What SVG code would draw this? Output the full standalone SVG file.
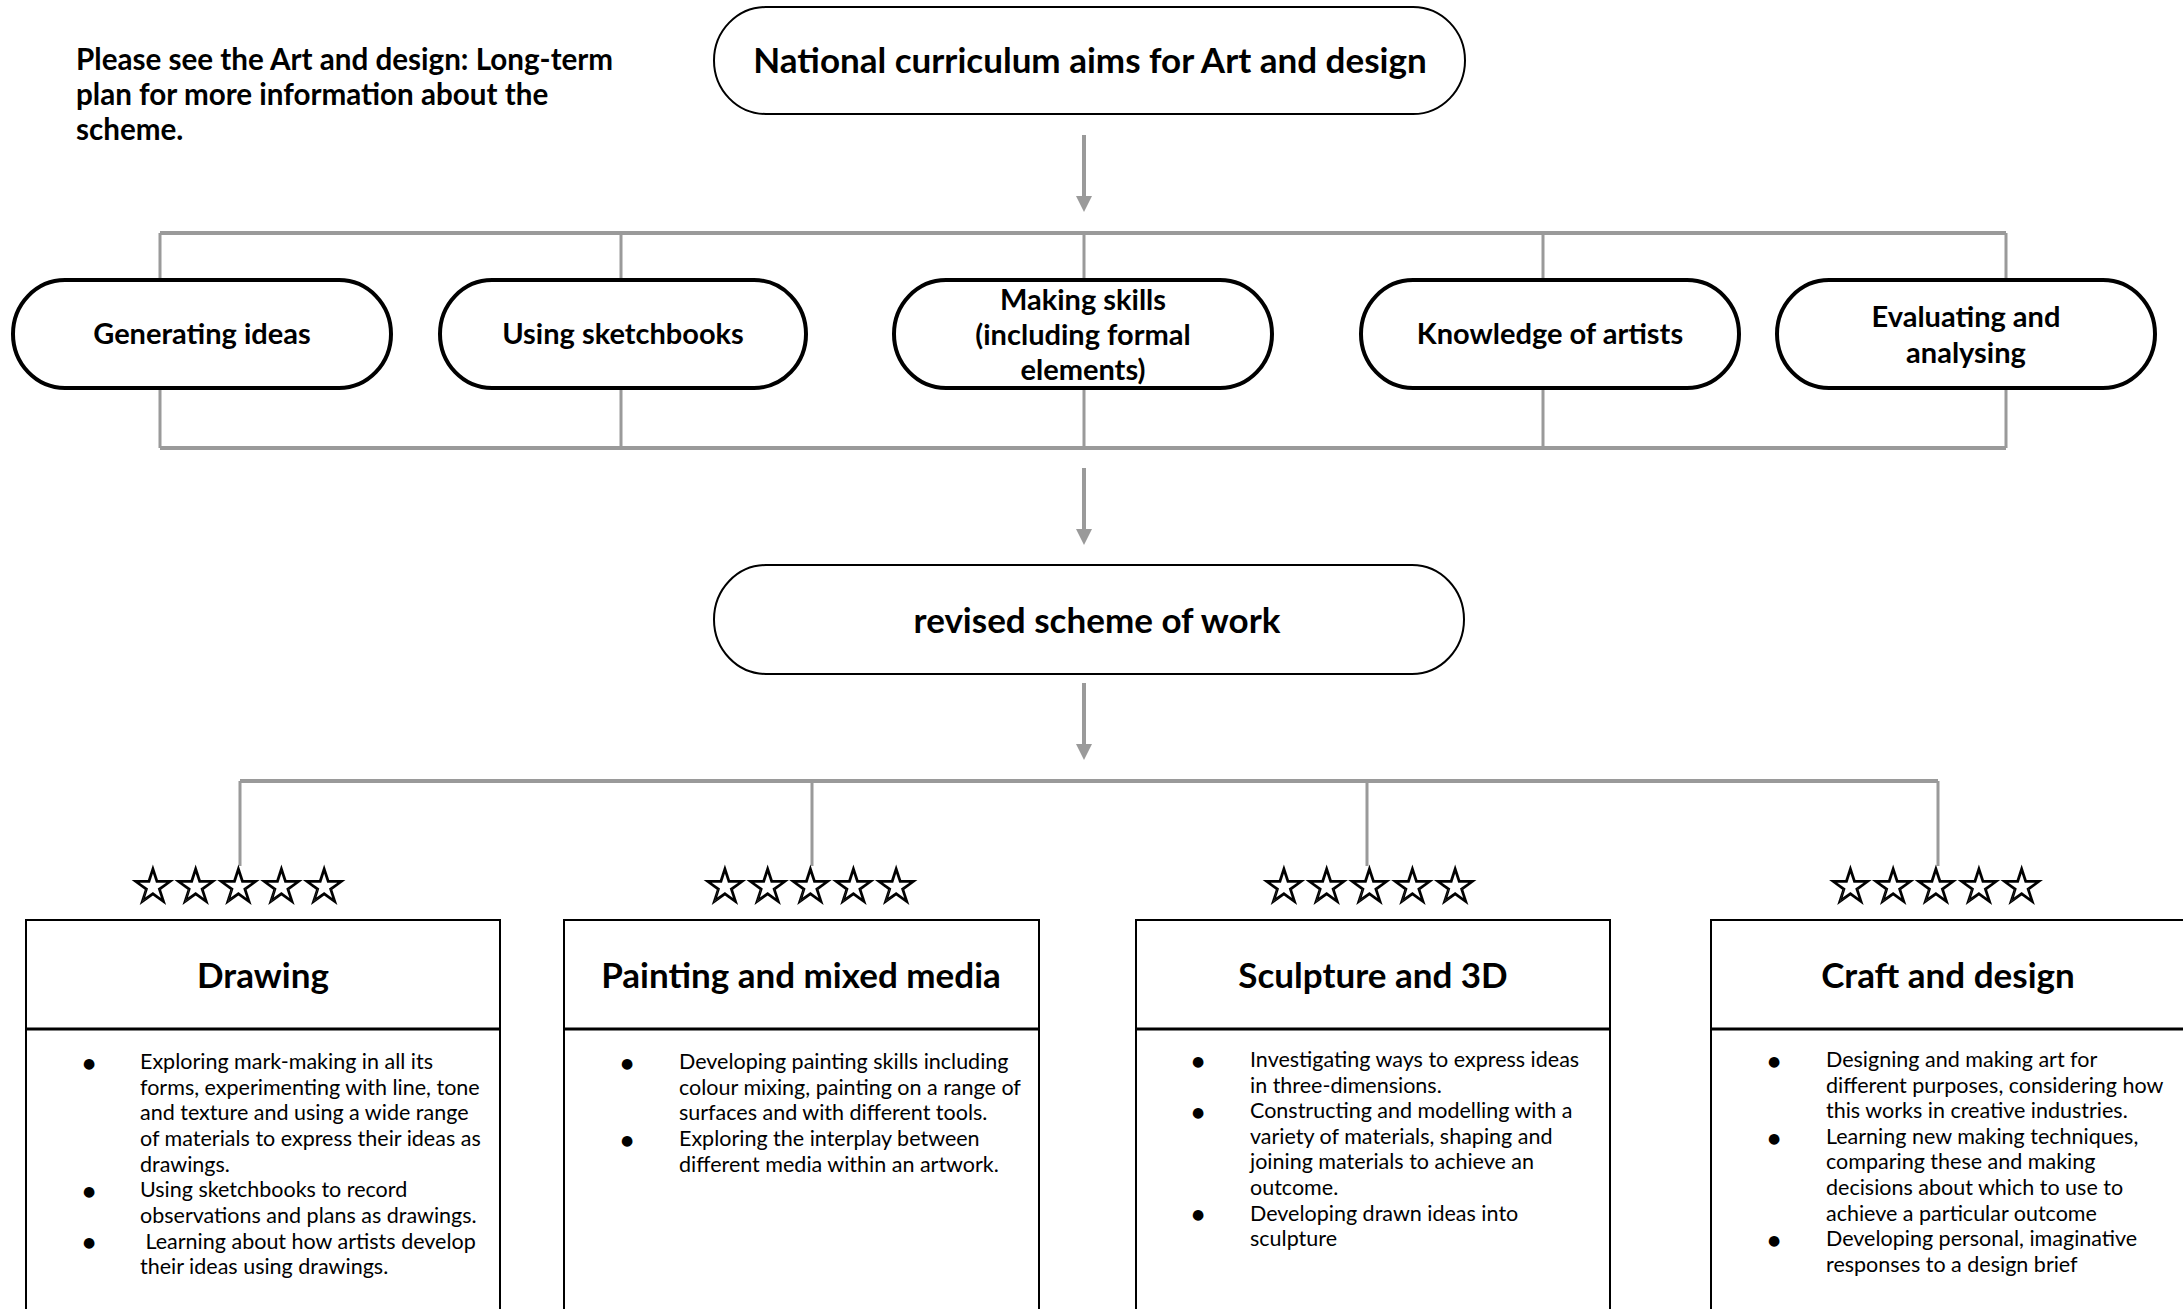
<svg xmlns="http://www.w3.org/2000/svg" width="2183" height="1309" viewBox="0 0 2183 1309">
<defs>
<marker id="ah" viewBox="0 0 16 16" refX="8" refY="8" markerWidth="16" markerHeight="16" markerUnits="userSpaceOnUse" orient="auto">
<path d="M0,0 L16,8 L0,16 z" fill="#9a9a9a"/>
</marker>
</defs>
<style>
.t{font-family:Lato,"Liberation Sans",sans-serif;fill:#000}
.b{font-weight:bold}
.big{font-size:35px;font-weight:bold;text-anchor:middle}
.mid{font-size:29px;font-weight:bold;text-anchor:middle}
.body{font-size:21.5px}
.bul{font-family:"DejaVu Sans",sans-serif;font-size:14px;text-anchor:middle}
.star{font-family:"DejaVu Sans",sans-serif;font-size:50px;text-anchor:middle;fill:#fff;stroke:#000;stroke-width:1.4}
.pill{fill:#fff;stroke:#000}
.box{fill:#fff;stroke:#000;stroke-width:2}
.con{stroke:#9a9a9a;fill:none}
</style>
<rect width="2183" height="1309" fill="#fff"/>

<g id="note">
<text class="t b" x="76" y="70" font-size="29.6">Please see the Art and design: Long-term</text>
<text class="t b" x="76" y="105" font-size="29.6">plan for more information about the</text>
<text class="t b" x="76" y="140" font-size="29.6">scheme.</text>
</g>

<g id="connectors">
<line class="con" x1="1084" y1="135" x2="1084" y2="204" stroke-width="4" marker-end="url(#ah)"/>
<path class="con" d="M160,233 H2006 M160,448 H2006" stroke-width="4"/>
<path class="con" d="M160,233 V448 M621,233 V448 M1084,233 V448 M1543,233 V448 M2006,233 V448" stroke-width="3"/>
<line class="con" x1="1084" y1="468" x2="1084" y2="537" stroke-width="4" marker-end="url(#ah)"/>
<line class="con" x1="1084" y1="683" x2="1084" y2="752" stroke-width="4" marker-end="url(#ah)"/>
<path class="con" d="M240,781 H1938" stroke-width="4"/>
<path class="con" d="M240,781 V866 M812,781 V866 M1367,781 V866 M1938,781 V866" stroke-width="3"/>
</g>

<g id="node-national">
<rect class="pill" x="714" y="7" width="751" height="107" rx="52" ry="53.5" stroke-width="2"/>
<text class="t big" x="1090" y="73">National curriculum aims for Art and design</text>
</g>

<g id="node-generating">
<rect class="pill" x="13" y="280" width="378" height="108" rx="52" ry="54" stroke-width="4"/>
<text class="t mid" x="202" y="344">Generating ideas</text>
</g>
<g id="node-sketchbooks">
<rect class="pill" x="440" y="280" width="366" height="108" rx="52" ry="54" stroke-width="4"/>
<text class="t mid" x="623" y="344">Using sketchbooks</text>
</g>
<g id="node-making">
<rect class="pill" x="894" y="280" width="378" height="108" rx="52" ry="54" stroke-width="4"/>
<text class="t mid" x="1083" y="310">Making skills</text>
<text class="t mid" x="1083" y="345">(including formal</text>
<text class="t mid" x="1083" y="380">elements)</text>
</g>
<g id="node-knowledge">
<rect class="pill" x="1361" y="280" width="378" height="108" rx="52" ry="54" stroke-width="4"/>
<text class="t mid" x="1550" y="344">Knowledge of artists</text>
</g>
<g id="node-evaluating">
<rect class="pill" x="1777" y="280" width="378" height="108" rx="52" ry="54" stroke-width="4"/>
<text class="t mid" x="1966" y="327">Evaluating and</text>
<text class="t mid" x="1966" y="363">analysing</text>
</g>

<g id="node-revised">
<rect class="pill" x="714" y="565" width="750" height="109" rx="52" ry="54.5" stroke-width="2"/>
<text class="t big" x="1097" y="633">revised scheme of work</text>
</g>

<g id="node-drawing">
<text class="star" x="238.5" y="903" textLength="216" lengthAdjust="spacing">☆☆☆☆☆</text>
<rect class="box" x="26" y="920" width="474" height="420"/>
<line x1="26" y1="1029" x2="500" y2="1029" stroke="#000" stroke-width="3"/>
<text class="t big" x="263" y="988">Drawing</text>
<text class="bul" x="89" y="1068">●</text>
<text class="bul" x="89" y="1196">●</text>
<text class="bul" x="89" y="1247">●</text>
<text class="t body" x="140" y="1069">Exploring mark-making in all its</text>
<text class="t body" x="140" y="1095">forms, experimenting with line, tone</text>
<text class="t body" x="140" y="1120">and texture and using a wide range</text>
<text class="t body" x="140" y="1146">of materials to express their ideas as</text>
<text class="t body" x="140" y="1172">drawings.</text>
<text class="t body" x="140" y="1197">Using sketchbooks to record</text>
<text class="t body" x="140" y="1223">observations and plans as drawings.</text>
<text class="t body" x="140" y="1249" xml:space="preserve"> Learning about how artists develop</text>
<text class="t body" x="140" y="1274">their ideas using drawings.</text>
</g>

<g id="node-painting">
<text class="star" x="810.5" y="903" textLength="216" lengthAdjust="spacing">☆☆☆☆☆</text>
<rect class="box" x="564" y="920" width="475" height="420"/>
<line x1="564" y1="1029" x2="1039" y2="1029" stroke="#000" stroke-width="3"/>
<text class="t big" x="801" y="988">Painting and mixed media</text>
<text class="bul" x="627" y="1068">●</text>
<text class="bul" x="627" y="1145">●</text>
<text class="t body" x="679" y="1069">Developing painting skills including</text>
<text class="t body" x="679" y="1095">colour mixing, painting on a range of</text>
<text class="t body" x="679" y="1120">surfaces and with different tools.</text>
<text class="t body" x="679" y="1146">Exploring the interplay between</text>
<text class="t body" x="679" y="1172">different media within an artwork.</text>
</g>

<g id="node-sculpture">
<text class="star" x="1369.5" y="903" textLength="216" lengthAdjust="spacing">☆☆☆☆☆</text>
<rect class="box" x="1136" y="920" width="474" height="420"/>
<line x1="1136" y1="1029" x2="1610" y2="1029" stroke="#000" stroke-width="3"/>
<text class="t big" x="1373" y="988">Sculpture and 3D</text>
<text class="bul" x="1198" y="1066">●</text>
<text class="bul" x="1198" y="1117">●</text>
<text class="bul" x="1198" y="1219">●</text>
<text class="t body" x="1250" y="1067">Investigating ways to express ideas</text>
<text class="t body" x="1250" y="1093">in three-dimensions.</text>
<text class="t body" x="1250" y="1118">Constructing and modelling with a</text>
<text class="t body" x="1250" y="1144">variety of materials, shaping and</text>
<text class="t body" x="1250" y="1169">joining materials to achieve an</text>
<text class="t body" x="1250" y="1195">outcome.</text>
<text class="t body" x="1250" y="1221">Developing drawn ideas into</text>
<text class="t body" x="1250" y="1246">sculpture</text>
</g>

<g id="node-craft">
<text class="star" x="1936" y="903" textLength="216" lengthAdjust="spacing">☆☆☆☆☆</text>
<rect class="box" x="1711" y="920" width="474" height="420"/>
<line x1="1711" y1="1029" x2="2185" y2="1029" stroke="#000" stroke-width="3"/>
<text class="t big" x="1948" y="988">Craft and design</text>
<text class="bul" x="1774" y="1066">●</text>
<text class="bul" x="1774" y="1143">●</text>
<text class="bul" x="1774" y="1245">●</text>
<text class="t body" x="1826" y="1067">Designing and making art for</text>
<text class="t body" x="1826" y="1093">different purposes, considering how</text>
<text class="t body" x="1826" y="1118">this works in creative industries.</text>
<text class="t body" x="1826" y="1144">Learning new making techniques,</text>
<text class="t body" x="1826" y="1169">comparing these and making</text>
<text class="t body" x="1826" y="1195">decisions about which to use to</text>
<text class="t body" x="1826" y="1221">achieve a particular outcome</text>
<text class="t body" x="1826" y="1246">Developing personal, imaginative</text>
<text class="t body" x="1826" y="1272">responses to a design brief</text>
</g>
</svg>
